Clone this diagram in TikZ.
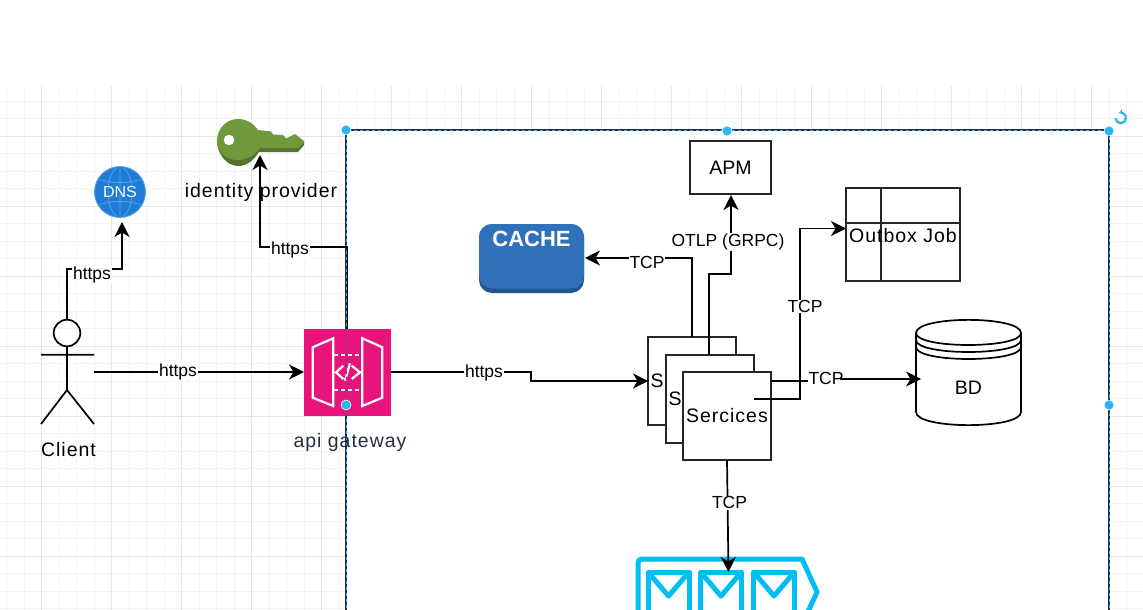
\documentclass[tikz,border=0pt]{standalone}
\usepackage{fontspec}
\setmainfont{Liberation Sans}
\newfontfamily\spacedfont[LetterSpace=5]{Liberation Sans}
\usetikzlibrary{arrows.meta,calc}
\definecolor{gridminor}{HTML}{F4F4F4}
\definecolor{gridmajor}{HTML}{E6E6E6}
\definecolor{handle}{HTML}{29B6F2}
\definecolor{keygreen}{HTML}{6F9A3C}
\definecolor{keydark}{HTML}{55752D}
\definecolor{gwpink}{HTML}{E7157B}
\definecolor{cacheblue}{HTML}{2F72BA}
\definecolor{cachedark}{HTML}{23558F}
\definecolor{dnsblue}{HTML}{1C7CD6}
\definecolor{queuecyan}{HTML}{00BEF2}
\definecolor{awsink}{HTML}{232F3E}
\tikzset{
  x=1pt,y=-1pt,
  wire/.style={draw=black,line width=1.7,line join=miter},
  arrowwire/.style={wire,-{Stealth[length=15,width=15,inset=4.5]}},
  boxshape/.style={draw=black!85,line width=1.8,fill=white,inner sep=0,minimum width=#1},
  edgelabel/.style={fill=white,inner sep=0.8,font=\fontsize{17.5}{20}\selectfont},
  plainlabel/.style={inner sep=0,font=\fontsize{19.5}{22}\selectfont\spacedfont},
  dothandle/.style={circle,fill=handle,draw=white,line width=0.6,inner sep=0,minimum size=10},
  doorline/.style={draw=white,line width=2.2,line join=miter},
  queueline/.style={draw=queuecyan,line width=5,line join=round},
}
\begin{document}
\begin{tikzpicture}
\useasboundingbox (0,0) rectangle (1143,610);
\clip (0,0) rectangle (1143,610);
% grid
\foreach \i in {-2,...,63}{
  \draw[gridminor,line width=0.8] ({41.7+17.5*\i},86) -- ({41.7+17.5*\i},610);
}
\foreach \i in {-2,...,30}{
  \draw[gridminor,line width=0.8] (0,{136+17.5*\i}) -- (1143,{136+17.5*\i});
}
\fill[white] (0,0) rectangle (1143,86);
\foreach \i in {0,...,15}{
  \draw[gridmajor,line width=0.9] ({41.7+70*\i},86) -- ({41.7+70*\i},610);
}
\foreach \i in {0,...,6}{
  \draw[gridmajor,line width=0.9] (0,{136+70*\i}) -- (1143,{136+70*\i});
}
% container
\coordinate (ctl) at (346,130);
\coordinate (ctr) at (1109,130);
\coordinate (cbl) at (346,620);
\coordinate (cbr) at (1109,620);
\fill[white] (ctl) rectangle (cbr);
\draw[draw=awsink,line width=1.6] (cbl) -- (ctl) -- (ctr) -- (cbr);
\draw[draw=handle,line width=1,dashed,dash pattern=on 3pt off 3pt] (cbl) -- (ctl) -- (ctr) -- (cbr);
% client actor
\coordinate (actorhead) at (67,333);
\coordinate (actortop) at (67,320);
\coordinate (actorhand) at (94,372);
\draw[wire] (actorhead) circle (13.3);
\draw[wire] (67,346.3) -- (67,390) (41,354.7) -- (94,354.7) (41,424) -- (67,390) -- (94,424);
\node[plainlabel] (clientlabel) at (68.5,450) {Client};
% DNS
\node[circle,fill=dnsblue,draw=dnsblue!70!white,line width=.8,inner sep=0,minimum size=51] (dns) at (120,192) {};
\begin{scope}
\clip (120,192) circle (24);
\draw[white,opacity=.3,line width=.7] (120,192) ellipse (12 and 25) (120,166) -- (120,218)
  (96,178) .. controls (110,184) and (130,184) .. (144,178)
  (96,206) .. controls (110,200) and (130,200) .. (144,206);
\end{scope}
\node[inner sep=0,text=white,font=\fontsize{16}{18}\selectfont] (dnslabel) at (120,192) {DNS};
% identity provider key
\fill[keydark] (217,141) .. controls (217,153) and (226,166) .. (238,166) .. controls (247,166) and (254,160) .. (259,152) -- (298,152) -- (304,145) -- (304,141) -- (260,141) -- cycle;
\fill[keygreen] (238,119) .. controls (247,119) and (254,124) .. (258,130) -- (271,131.5) -- (273,134.5) -- (283,135) -- (286,138.5) -- (295,134) -- (304,141) -- (304,142) -- (298,148) -- (260,148) .. controls (255,155) and (247,160) .. (238,160) .. controls (226,160) and (217,152) .. (217,141) .. controls (217,129) and (226,119) .. (238,119) -- cycle;
\fill[white] (229,140) circle (5.3);
\coordinate (keytip) at (260,155);
\node[plainlabel] (idplabel) at (261,192) {identity provider};
% API gateway
\node[fill=gwpink,inner sep=0,minimum size=87] (gw) at (347.5,372.5) {};
\draw[doorline] (312.7,347.3) -- (333.3,338.3) -- (333.3,406) -- (312.7,397.7) -- cycle;
\draw[doorline] (362.3,338.3) -- (382.3,347.3) -- (382.3,397.7) -- (362.3,406) -- cycle;
\draw[doorline,dashed,dash pattern=on 4pt off 3pt] (334,355) -- (362,355) (334,390) -- (362,390);
\draw[doorline] (343.3,365.7) -- (336,372.3) -- (343.3,379) (351.7,365.7) -- (360,372.3) -- (351.7,379) (350,363.3) -- (345,380.7);
\draw[draw=violet!60!handle,line width=1,dashed,dash pattern=on 3pt off 3pt] (346.5,329) -- (346.5,416);
\node[plainlabel,text=awsink] (gwlabel) at (350,442) {api gateway};
% cache
\node[fill=cachedark,rounded corners=13,inner sep=0,minimum width=105,minimum height=69] (cache) at (531.5,258.5) {};
\fill[cacheblue,rounded corners=13] (479,224) rectangle (584,288.5);
\node[inner sep=0,text=white,font=\fontsize{22}{24}\selectfont\bfseries] (cachelabel) at (531.5,239) {CACHE};
% APM
\node[boxshape=81,minimum height=53,font=\fontsize{19.5}{22}\selectfont] (apm) at (730.5,167.5) {APM};
% outbox
\node[boxshape=114,minimum height=93] (outbox) at (903,234.5) {};
\draw[draw=black!85,line width=1.8] (881,188) -- (881,281) (846,223) -- (960,223);
\node[plainlabel] (outboxlabel) at (903,236) {Outbox Job};
% database
\coordinate (bdtl) at (916,333);
\fill[white,draw=black,line width=1.7] (916,333) .. controls (916,315.5) and (1021,315.5) .. (1021,333) -- (1021,412) .. controls (1021,429.5) and (916,429.5) .. (916,412) -- cycle;
\draw[black,line width=1.7] (916,333) .. controls (916,349) and (1021,349) .. (1021,333)
  (916,340) .. controls (916,356) and (1021,356) .. (1021,340)
  (916,347) .. controls (916,363) and (1021,363) .. (1021,347);
\node[inner sep=0,font=\fontsize{19.5}{22}\selectfont] (bd) at (968.5,388) {BD};
\coordinate (bdtip) at (921,379);
% queue
\draw[queueline] (638,620) -- (638,563) .. controls (638,560.5) and (639,559) .. (642,559) -- (802,559) -- (817,592) -- (802,625);
\foreach \a/\nm in {648/qa,700.5/qb,753.5/qc}{
  \draw[queueline] (\a,620) -- (\a,572) -- ({\a+41},572) -- ({\a+41},620);
  \draw[queueline] (\a,572) -- ({\a+20.5},596) -- ({\a+41},572);
}
\coordinate (queuetip) at (728.5,572);
% services
\node[boxshape=88,minimum height=88] (svca) at (692,381) {};
\node[inner sep=0,font=\fontsize{19.5}{22}\selectfont,anchor=west] (svcaS) at (650.5,381) {S};
\node[boxshape=88,minimum height=88] (svcb) at (710,399) {};
\node[inner sep=0,font=\fontsize{19.5}{22}\selectfont,anchor=west] (svcbS) at (668.5,399) {S};
\node[boxshape=88,minimum height=88] (svcc) at (727,416) {};
\node[plainlabel] (svclabel) at (727,416) {Sercices};
% connectors
\coordinate (gwtop) at (347.5,329);
\coordinate (gwright) at (391,372);
\coordinate (svcaleft) at (648,381);
\coordinate (gwleft) at (304,372);
\coordinate (cacheright) at (585,258);
\coordinate (svcatop) at (692,337);
\coordinate (svcbtop) at (709,355);
\coordinate (apmbottom) at (731,195);
\coordinate (outboxleft) at (846,228.5);
\coordinate (svccin) at (753.5,398.7);
\coordinate (svccright) at (771,381);
\coordinate (svccbottom) at (727,460);
\coordinate (dnstip) at (122,222);
\coordinate (bdstart) at (840,379);
\draw[arrowwire] (actortop) -- (67,269) -- (122,269) -- (dnstip);
\node[edgelabel] (l1) at (92,275) {https};
\draw[arrowwire] (actorhand) -- (gwleft);
\node[edgelabel] (l2) at (178,372) {https};
\draw[arrowwire] (gwtop) -- (347.5,247) -- (260,247) -- (keytip);
\node[edgelabel] (l3) at (290,250) {https};
\draw[arrowwire] (gwright) -- (531,372) -- (531,381) -- (svcaleft);
\node[edgelabel] (l4) at (484,373) {https};
\draw[arrowwire] (svcatop) -- (692,258) -- (cacheright);
\node[edgelabel] (l5) at (647,262.5) {TCP};
\draw[arrowwire] (svcbtop) -- (709,274) -- (731,274) -- (apmbottom);
\node[edgelabel] (l6) at (728,242) {OTLP (GRPC)};
\draw[arrowwire] (svccin) -- (800,398.7) -- (800,228.5) -- (outboxleft);
\node[edgelabel] (l7) at (805,306.5) {TCP};
\draw[wire] (svccright) -- (808,381);
\node[edgelabel] (l8) at (826,378.5) {TCP};
\draw[arrowwire] (bdstart) -- (bdtip);
\draw[arrowwire] (svccbottom) -- (queuetip);
\node[edgelabel] (l9) at (729.5,502.5) {TCP};
% selection handles
\node[dothandle] (h1) at (346,130) {};
\node[dothandle] (h2) at (727,131) {};
\node[dothandle] (h3) at (1109,131) {};
\node[dothandle] (h4) at (1109,405) {};
\node[dothandle] (h5) at (346,405) {};
\draw[handle,line width=2.2,-{Stealth[length=4.5,width=6]}] (1115.5,118) arc[start angle=180,end angle=-110,radius=5.2];
\end{tikzpicture}
\end{document}
